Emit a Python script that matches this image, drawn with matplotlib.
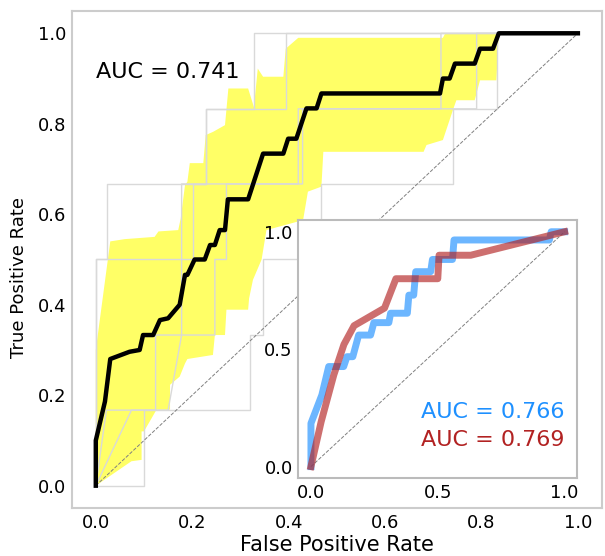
import matplotlib
matplotlib.use('Agg')
import matplotlib.pyplot as plt

# mean ROC curve (black)
mean_fpr = [0, 0, 0.019, 0.03, 0.07, 0.091, 0.098, 0.119, 0.133, 0.15, 0.174, 0.185, 0.19, 0.205,
            0.226, 0.237, 0.247, 0.257, 0.268, 0.274, 0.316, 0.347, 0.389, 0.399, 0.416, 0.437,
            0.458, 0.468, 0.714, 0.72, 0.734, 0.745, 0.786, 0.797, 0.824, 0.836, 1.0]
mean_tpr = [0, 0.1, 0.186, 0.28, 0.296, 0.3, 0.333, 0.333, 0.366, 0.37, 0.4, 0.466, 0.466, 0.5,
            0.5, 0.532, 0.532, 0.565, 0.565, 0.633, 0.633, 0.734, 0.734, 0.767, 0.767, 0.834,
            0.834, 0.867, 0.867, 0.9, 0.9, 0.933, 0.933, 0.966, 0.966, 1.0, 1.0]

# confidence band (yellow)
upper_fpr = [0, 0.015, 0.03, 0.06, 0.122, 0.13, 0.171, 0.176, 0.185, 0.19, 0.195, 0.223, 0.228,
             0.243, 0.268, 0.275, 0.316, 0.328, 0.336, 0.347, 0.389, 0.394, 0.42, 0.72, 0.725, 1.0]
upper_tpr = [0.30, 0.42, 0.54, 0.545, 0.55, 0.562, 0.565, 0.59, 0.664, 0.672, 0.713, 0.713, 0.775,
             0.782, 0.797, 0.878, 0.878, 0.837, 0.922, 0.904, 0.904, 0.966, 0.99, 0.99, 1.0, 1.0]
lower_fpr = [0, 0.074, 0.095, 0.095, 0.1, 0.126, 0.154, 0.154, 0.174, 0.185, 0.19, 0.243, 0.247,
             0.268, 0.271, 0.316, 0.318, 0.326, 0.344, 0.354, 0.43, 0.44, 0.468, 0.472, 0.68,
             0.686, 0.72, 0.742, 0.748, 0.786, 0.797, 0.831, 0.836, 1.0]
lower_tpr = [0, 0.054, 0.057, 0.12, 0.12, 0.168, 0.168, 0.223, 0.241, 0.27, 0.28, 0.289, 0.333,
             0.333, 0.389, 0.389, 0.414, 0.455, 0.5, 0.565, 0.587, 0.65, 0.661, 0.738, 0.738,
             0.753, 0.764, 0.834, 0.852, 0.852, 0.896, 0.896, 1.0, 1.0]

# individual fold ROC curves (light gray)
fold_fprs = [
    [0, 0, 0.024, 0.024, 0.228, 0.228, 0.328, 0.328, 1],
    [0, 0.022, 0.124, 0.124, 0.178, 0.178, 0.42, 0.42, 0.716, 0.716, 1],
    [0, 0.074, 0.15, 0.178, 0.247, 0.247, 0.271, 0.271, 0.429, 0.429, 0.79, 0.79, 1],
    [0, 0, 0.202, 0.202, 0.228, 0.228, 0.394, 0.394, 1],
    [0, 0.1, 0.1, 0.32, 0.32, 0.347, 0.347, 0.468, 0.468, 0.74, 0.74, 0.833, 0.833, 1],
]
fold_tprs = [
    [0, 0.5, 0.5, 0.667, 0.667, 0.833, 0.833, 1, 1],
    [0, 0.167, 0.167, 0.333, 0.333, 0.667, 0.667, 0.833, 0.833, 1, 1],
    [0, 0.167, 0.167, 0.333, 0.333, 0.5, 0.5, 0.667, 0.667, 0.833, 0.833, 1, 1],
    [0, 0.5, 0.5, 0.667, 0.667, 0.833, 0.833, 1, 1],
    [0, 0, 0.167, 0.167, 0.333, 0.333, 0.5, 0.5, 0.667, 0.667, 0.833, 0.833, 1, 1],
]
main_auc = 0.741

# inset: two models
blue_fpr = [0, 0, 0.043, 0.07, 0.129, 0.142, 0.165, 0.188, 0.235, 0.248, 0.307, 0.314, 0.38,
            0.386, 0.405, 0.413, 0.472, 0.479, 0.558, 0.564, 0.94, 0.947, 1.0]
blue_tpr = [0, 0.184, 0.305, 0.426, 0.426, 0.468, 0.468, 0.56, 0.56, 0.613, 0.613, 0.653, 0.653,
            0.73, 0.73, 0.83, 0.83, 0.882, 0.882, 0.965, 0.965, 1.0, 1.0]
red_fpr = [0, 0.04, 0.09, 0.13, 0.17, 0.29, 0.335, 0.5, 0.505, 0.63, 1.0]
red_tpr = [0, 0.19, 0.39, 0.52, 0.6, 0.675, 0.8, 0.8, 0.9, 0.9, 1.0]
blue_auc = 0.766
red_auc = 0.769

fig = plt.figure(figsize=(6.05, 5.56), dpi=100)
ax = fig.add_axes([0.1185, 0.0858, 0.8765, 0.895])

band_x = upper_fpr + lower_fpr[::-1]
band_y = upper_tpr + lower_tpr[::-1]
ax.fill(band_x, band_y, color='#ffff66', lw=0, zorder=1)
for fx, fy in zip(fold_fprs, fold_tprs):
    ax.plot(fx, fy, color='#d9d9d9', lw=1, zorder=2)
ax.plot([0, 1], [0, 1], '--', color='gray', lw=0.7, zorder=3)
ax.plot(mean_fpr, mean_tpr, color='black', lw=3.2, zorder=4)
ax.text(0.0, 0.915, f'AUC = {main_auc:.3f}', fontsize=16, ha='left', va='center')

ax.set_xlim(-0.05, 1.05)
ax.set_ylim(-0.05, 1.05)
ax.set_xticks([0, 0.2, 0.4, 0.6, 0.8, 1.0])
ax.set_yticks([0, 0.2, 0.4, 0.6, 0.8, 1.0])
ax.tick_params(length=0, labelsize=13, pad=4)
ax.set_xlabel('False Positive Rate', fontsize=15, labelpad=2)
ax.set_ylabel('True Positive Rate', fontsize=13)
ax.yaxis.set_label_coords(-0.082, 0.463)
for s in ax.spines.values():
    s.set_color('#cccccc')
    s.set_linewidth(1.5)

ins = fig.add_axes([0.493, 0.1397, 0.4612, 0.4646])
ins.plot([0, 1], [0, 1], '--', color='gray', lw=0.7)
ins.plot(blue_fpr, blue_tpr, color='dodgerblue', alpha=0.65, lw=5)
ins.plot(red_fpr, red_tpr, color='firebrick', alpha=0.65, lw=5)
ins.text(1.0, 0.234, f'AUC = {blue_auc:.3f}', color='dodgerblue', fontsize=16, ha='right', va='center')
ins.text(1.0, 0.114, f'AUC = {red_auc:.3f}', color='firebrick', fontsize=16, ha='right', va='center')
ins.set_xlim(-0.05, 1.05)
ins.set_ylim(-0.05, 1.05)
ins.set_xticks([0, 0.5, 1.0])
ins.set_yticks([0, 0.5, 1.0])
ins.tick_params(length=0, labelsize=13, pad=4)
for s in ins.spines.values():
    s.set_color('#bbbbbb')
    s.set_linewidth(1.5)

fig.savefig('out.png', dpi=100)
